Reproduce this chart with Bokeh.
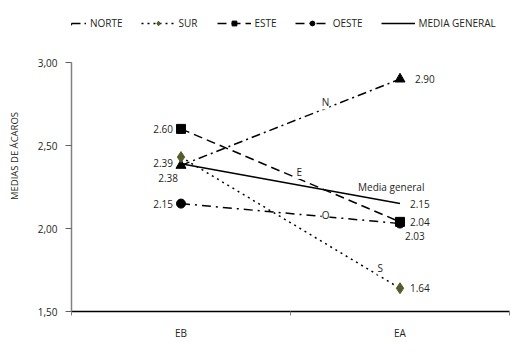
from bokeh.plotting import figure
from bokeh.models import (FixedTicker, Legend, LegendItem, Label, Range1d)
from bokeh.embed import file_html
from bokeh.resources import INLINE

categories = ["EB", "EA"]
norte = [2.38, 2.90]
sur = [2.43, 1.64]
este = [2.60, 2.04]
oeste = [2.15, 2.03]
media = [2.39, 2.15]
y_ticks = [1.5, 2.0, 2.5, 3.0]
y_tick_labels = ["1,50", "2,00", "2,50", "3,00"]

FONT = "Open Sans"
TXT = "#231f20"
OLIVE = "#545d2c"
xs = [0.5, 1.5]

W, H = 511, 362
BL, BR, BT, BB = 71, 2, 0, 51
frame_h = H - BT - BB          # 311 px
axis_top_px = 62               # where 3.00 sits
ppu = (frame_h - axis_top_px) / 1.5
y_end = 3.0 + axis_top_px / ppu

p = figure(width=W, height=H, output_backend="svg", toolbar_location=None,
           x_range=Range1d(0, 2), y_range=Range1d(1.5, y_end),
           min_border_left=BL, min_border_right=BR, min_border_top=BT,
           min_border_bottom=BB)
p.outline_line_color = None
p.grid.visible = False
p.background_fill_color = "white"

# x axis
p.xaxis.ticker = FixedTicker(ticks=xs, minor_ticks=[0, 1, 2])
p.xaxis.major_label_overrides = {x: c for x, c in zip(xs, categories)}
p.xaxis.major_tick_out = 0
p.xaxis.major_tick_in = 0
p.xaxis.minor_tick_out = 4
p.xaxis.minor_tick_in = 0
p.xaxis.minor_tick_line_color = "#808080"
p.xaxis.axis_line_color = "black"
p.xaxis.axis_line_width = 1.5
p.xaxis.major_label_standoff = 10
p.xaxis.major_label_text_font = FONT
p.xaxis.major_label_text_font_size = "10px"
p.xaxis.major_label_text_color = TXT

# y axis
p.yaxis.ticker = FixedTicker(ticks=y_ticks, minor_ticks=[])
p.yaxis.bounds = (y_ticks[0], y_ticks[-1])
p.yaxis.major_label_overrides = {t: l for t, l in zip(y_ticks, y_tick_labels)}
p.yaxis.major_tick_out = 6
p.yaxis.major_tick_in = 0
p.yaxis.major_tick_line_color = "#606060"
p.yaxis.axis_line_color = "#808080"
p.yaxis.axis_line_width = 1.5
p.yaxis.major_label_standoff = 8
p.yaxis.major_label_text_font = FONT
p.yaxis.major_label_text_font_size = "10px"
p.yaxis.major_label_text_color = TXT
p.yaxis.axis_label = "MEDIAS DE ÁCAROS"
p.yaxis.axis_label_text_font = FONT
p.yaxis.axis_label_text_font_size = "9.5px"
p.yaxis.axis_label_text_font_style = "normal"
p.yaxis.axis_label_text_color = TXT
p.yaxis.axis_label_standoff = 14

series = [
    ("NORTE", norte, "9 4 2 4", "triangle", "black", 10),
    ("SUR", sur, "2 4", "diamond", OLIVE, 11),
    ("ESTE", este, "9 5", "square", "black", 9),
    ("OESTE", oeste, "9 5 2 5", "circle", "black", 9),
    ("MEDIA GENERAL", media, "solid", None, "black", 0),
]

items = []
for name, vals, dash, marker, color, size in series:
    rs = []
    r = p.line(xs, vals, line_color="black", line_width=1.5, line_dash=dash)
    rs.append(r)
    if marker:
        m = p.scatter(xs, vals, marker=marker, size=size, fill_color=color,
                      line_color=color)
        rs.append(m)
    items.append(LegendItem(label=name, renderers=rs))

legend = Legend(items=items, orientation="horizontal",
                location=(-19, frame_h - 30),
                label_text_font=FONT, label_text_font_size="10px",
                label_text_color=TXT, glyph_width=34, glyph_height=12,
                label_standoff=4, spacing=18, padding=0, margin=0,
                border_line_alpha=0, background_fill_alpha=0)
p.add_layout(legend, "center")

# data value labels
def lbl(x, y, txt, dx, dy, align="left"):
    p.add_layout(Label(x=x, y=y, text=txt, x_offset=dx, y_offset=dy,
                       text_font=FONT, text_font_size="10px", text_color=TXT,
                       text_align=align, text_baseline="middle"))

lbl(xs[0], este[0], f"{este[0]:.2f}", -8, 0, "right")
lbl(xs[0], media[0], f"{media[0]:.2f}", -8, 1, "right")
lbl(xs[0], norte[0], f"{norte[0]:.2f}", -3, -13, "right")
lbl(xs[0], oeste[0], f"{oeste[0]:.2f}", -8, 0, "right")
lbl(xs[1], norte[1], f"{norte[1]:.2f}", 15, 0)
lbl(xs[1], media[1], f"{media[1]:.2f}", 10, 0)
lbl(xs[1], este[1], f"{este[1]:.2f}", 10, 0)
lbl(xs[1], oeste[1], f"{oeste[1]:.2f}", 5, -12)
lbl(xs[1], sur[1], f"{sur[1]:.2f}", 10, 0)

# series name labels along the lines
def along(vals, t):
    return xs[0] + t * (xs[1] - xs[0]), vals[0] + t * (vals[1] - vals[0])

for txt, vals, t, dy in [("N", norte, 0.66, 6), ("E", este, 0.54, 7),
                         ("O", oeste, 0.66, 2), ("S", sur, 0.91, 8)]:
    x, y = along(vals, t)
    p.add_layout(Label(x=x, y=y, text=txt, y_offset=dy, text_font=FONT,
                       text_font_size="10px", text_color=TXT,
                       text_align="center", text_baseline="middle",
                       background_fill_color="white"))
x, y = along(media, 0.96)
p.add_layout(Label(x=x, y=y, text="Media general", y_offset=15, text_font=FONT,
                   text_font_size="10px", text_color=TXT, text_align="center",
                   text_baseline="middle"))

p.add_layout(Label(x=246 - BL, y=-46, x_units="screen", y_units="screen",
                   text="ESTRATOS", text_font=FONT, text_font_size="9.5px",
                   text_color=TXT, text_align="center"))

open("out.html", "w").write(file_html(p, INLINE))
